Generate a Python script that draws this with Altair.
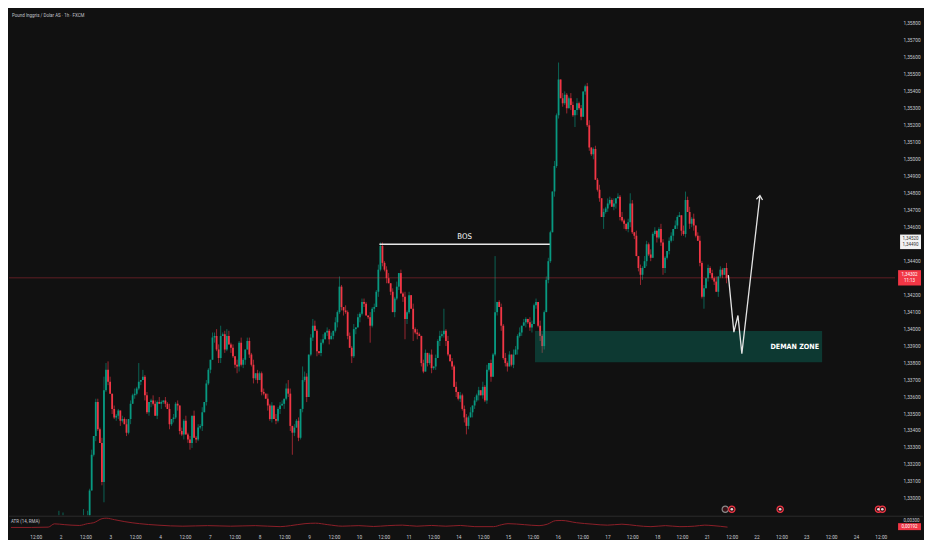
import altair as alt
import pandas as pd

# ---------------- data ----------------
TITLE = "Pound Inggris / Dolar AS · 1h · FXCM"
FIRST_OPEN = 1.3266

CLOSES = [
    # 0-35 (mostly below the visible range)
    1.3268, 1.3266, 1.3270, 1.3267, 1.3264, 1.3266, 1.3262, 1.3265, 1.3268, 1.3263,
    1.3260, 1.3264, 1.3267, 1.3262, 1.3258, 1.3261, 1.3265, 1.3262, 1.3266, 1.3270,
    1.3276, 1.3284, 1.3277, 1.3282, 1.3276, 1.3272, 1.3275, 1.3270, 1.3273, 1.3276,
    1.3274, 1.3278, 1.3283, 1.3287, 1.3284, 1.3289,
    # 36-93
    1.3305, 1.3326, 1.3337, 1.3357, 1.3341, 1.3333, 1.3310, 1.3364, 1.3376, 1.3369,
    1.3362, 1.3353, 1.3348, 1.3349, 1.3352, 1.3346, 1.3347, 1.3344, 1.3339, 1.3347,
    1.3356, 1.3361, 1.3362, 1.3365, 1.3369, 1.3370, 1.3372, 1.3361, 1.3351, 1.3357,
    1.3358, 1.3356, 1.3349, 1.3357, 1.3356, 1.3357, 1.3358, 1.3356, 1.3353, 1.3344,
    1.3347, 1.3348, 1.3356, 1.3355, 1.3340, 1.3338, 1.3346, 1.3338, 1.3335, 1.3333,
    1.3349, 1.3336, 1.3335, 1.3342, 1.3343, 1.3351, 1.3357, 1.3368,
    # 94-182
    1.3376, 1.3382, 1.3395, 1.3396, 1.3388, 1.3383, 1.3396, 1.3397, 1.3388, 1.3396,
    1.3391, 1.3389, 1.3384, 1.3379, 1.3378, 1.3392, 1.3379, 1.3382, 1.3388, 1.3393,
    1.3385, 1.3379, 1.3371, 1.3374, 1.3370, 1.3374, 1.3363, 1.3362, 1.3359, 1.3355,
    1.3347, 1.3355, 1.3347, 1.3346, 1.3353, 1.3355, 1.3356, 1.3359, 1.3365, 1.3362,
    1.3343, 1.3339, 1.3342, 1.3346, 1.3336, 1.3353, 1.3370, 1.3372, 1.3360, 1.3385,
    1.3395, 1.3402, 1.3399, 1.3387, 1.3386, 1.3392, 1.3394, 1.3398, 1.3399, 1.3394,
    1.3396, 1.3399, 1.3404, 1.3410, 1.3425, 1.3413, 1.3411, 1.3410, 1.3396, 1.3389,
    1.3384, 1.3400, 1.3401, 1.3407, 1.3409, 1.3416, 1.3415, 1.3408, 1.3407, 1.3402,
    1.3412, 1.3413, 1.3422, 1.3435, 1.3449, 1.3439, 1.3435, 1.3430, 1.3427,
    # 183-261
    1.3422, 1.3410, 1.3418, 1.3425, 1.3433, 1.3421, 1.3419, 1.3406, 1.3410, 1.3420,
    1.3412, 1.3400, 1.3398, 1.3397, 1.3396, 1.3380, 1.3375, 1.3386, 1.3380, 1.3385,
    1.3377, 1.3378, 1.3383, 1.3393, 1.3396, 1.3397, 1.3399, 1.3393, 1.3385, 1.3381,
    1.3378, 1.3366, 1.3363, 1.3359, 1.3361, 1.3353, 1.3348, 1.3343, 1.3348, 1.3351,
    1.3355, 1.3358, 1.3361, 1.3364, 1.3361, 1.3366, 1.3358, 1.3376, 1.3380, 1.3372,
    1.3385, 1.3410, 1.3416, 1.3413, 1.3402, 1.3383, 1.3380, 1.3378, 1.3385, 1.3379,
    1.3385, 1.3388, 1.3396, 1.3398, 1.3402, 1.3404, 1.3406, 1.3404, 1.3401, 1.3403,
    1.3414, 1.3416, 1.3402, 1.3396, 1.3390, 1.3410, 1.3429, 1.3440, 1.3457,
    # 262-347
    1.3481, 1.3496, 1.3526, 1.3547, 1.3536, 1.3533, 1.3538, 1.3530, 1.3536, 1.3532,
    1.3526, 1.3529, 1.3533, 1.3530, 1.3525, 1.3540, 1.3543, 1.3520, 1.3507, 1.3503,
    1.3506, 1.3488, 1.3482, 1.3477, 1.3466, 1.3469, 1.3471, 1.3474, 1.3476, 1.3472,
    1.3474, 1.3477, 1.3478, 1.3466, 1.3464, 1.3462, 1.3459, 1.3463, 1.3474, 1.3457,
    1.3455, 1.3443, 1.3436, 1.3432, 1.3436, 1.3440, 1.3450, 1.3444, 1.3442, 1.3456,
    1.3458, 1.3454, 1.3459, 1.3451, 1.3436, 1.3442, 1.3446, 1.3452, 1.3455, 1.3459,
    1.3461, 1.3466, 1.3467, 1.3458, 1.3456, 1.3476, 1.3469, 1.3462, 1.3465, 1.3461,
    1.3455, 1.3452, 1.3439, 1.3419, 1.3424, 1.3430, 1.3436, 1.3433, 1.3430, 1.3428,
    1.3422, 1.3431, 1.3435, 1.3432, 1.3436, 1.3430,
]

# wick lengths in pips (one digit per candle)
UPPER_WICK_PIPS = (
    "2131203121" "1302213102" "3121021320" "1203121302" "2130213021"
    "1021302131" "2031201321" "3102130212" "0213120312" "1302103213"
    "2120312031" "3102213021" "1203120312" "2031302120" "1320213102"
    "3021203121" "0312130212" "2103121302" "1230213021" "3120312102"
    "2013021320" "1302130212" "2130212031" "3021301213" "1203213021"
    "0321203112" "2103120321" "1320312012" "3012130213" "2130213102"
    "1203021321" "3120132102" "2031203123" "1302312021" "2130210312"
)
LOWER_WICK_PIPS = (
    "1320213012" "2103120321" "0213021312" "3120312013" "1023120312"
    "2310213021" "1203123102" "0312031213" "2130213021" "1302120312"
    "3021031203" "1230213120" "2103120213" "0312312021" "2130120312"
    "1023021312" "3120213031" "2013120312" "1302031203" "2310213021"
    "0213120312" "3102031213" "1203213021" "2130120312" "3012031203"
    "1230213120" "2103120213" "0312312021" "2130120312" "1023021312"
    "3120213031" "2013120312" "1302031203" "2310213021" "1203120312"
)
HIGH_OVERRIDE = {21: 1.3293, 23: 1.3292, 33: 1.3294, 35: 1.3293, 43: 1.3372, 44: 1.3380,
                 45: 1.3381, 60: 1.3380, 62: 1.3376, 98: 1.3400, 100: 1.3402, 103: 1.3400,
                 133: 1.3370, 140: 1.3378, 145: 1.3406, 158: 1.3431, 178: 1.3451,
                 209: 1.3412, 234: 1.3443, 265: 1.3557, 300: 1.3480, 327: 1.3481}
LOW_OVERRIDE = {43: 1.3298, 85: 1.3329, 99: 1.3380, 108: 1.3374, 135: 1.3326, 164: 1.3380,
                173: 1.3392, 190: 1.3394, 194: 1.3393, 220: 1.3338, 257: 1.3386,
                273: 1.3519, 287: 1.3459, 305: 1.3426, 316: 1.3432, 336: 1.3412}

ATR_I = [0, 10, 18, 21, 26, 33, 37, 40, 44, 46, 50, 55, 62, 71, 83, 95, 106, 118, 130, 135,
         142, 147, 153, 160, 168, 175, 182, 189, 196, 203, 210, 217, 224, 233, 237, 240, 248,
         255, 259, 263, 266, 273, 281, 288, 295, 302, 309, 316, 323, 330, 335, 339, 346]
ATR_V = [0.00179, 0.00179, 0.00184, 0.00239, 0.00225, 0.00212, 0.00242, 0.00258, 0.00325,
         0.00333, 0.00308, 0.00275, 0.00242, 0.00217, 0.00200, 0.00209, 0.00200, 0.00209,
         0.00192, 0.00209, 0.00242, 0.00250, 0.00225, 0.00200, 0.00209, 0.00195, 0.00209,
         0.00217, 0.00200, 0.00212, 0.00200, 0.00212, 0.00192, 0.00192, 0.00225, 0.00242,
         0.00225, 0.00209, 0.00233, 0.00292, 0.00295, 0.00258, 0.00233, 0.00217, 0.00233,
         0.00209, 0.00192, 0.00209, 0.00192, 0.00200, 0.00217, 0.00209, 0.00184]

TICK_LABELS = ["12:00", "2", "12:00", "3", "12:00", "4", "12:00", "7", "12:00", "8",
               "12:00", "9", "12:00", "10", "12:00", "11", "12:00", "14", "12:00", "15",
               "12:00", "16", "12:00", "17", "12:00", "18", "12:00", "21", "12:00", "22",
               "12:00", "23", "12:00", "24", "12:00"]
BARS_PER_TICK = 12

LAST_PRICE = 1.34302
LAST_LABEL = "1,34302\n11:13"
BOX_PRICE = 1.34514
BOX_LABEL = "1,34520\n1,34490"
ATR_LAST = 0.00192
ATR_LAST_LABEL = "0,00192"

BOS_I = [177.5, 260.7]
BOS_P = 1.3450
ZONE_I = [253.5, 393.7]
ZONE_P = [1.33805, 1.33989]
ARROW_I = [347.9, 350.6, 352.6, 354.5, 363.3]
ARROW_P = [1.34318, 1.33982, 1.34080, 1.33856, 1.34783]
EVENT_I = [346.4, 349.6, 373.2, 421.2, 423.1]
EVENT_KIND = ["other", "news", "news", "news", "news"]

# ---------------- layout ----------------
W = 889
HP = 508
HA = 15
XDOM = [-0.94, 426.9]
PDOM = [1.32904, 1.35886]
ADOM = [0.00117, 0.00366]
GREEN = "#089981"
RED = "#f23645"
BG = "#111111"
LBL = "#c8cbd2"
FONT = "Roboto"
NARROW = "Liberation Sans Narrow, DejaVu Sans Condensed, Roboto"
AX_FS = 4.8

n = len(CLOSES)
opens = [FIRST_OPEN] + CLOSES[:-1]
uw = [int(ch) for ch in UPPER_WICK_PIPS[:n]]
lw = [int(ch) for ch in LOWER_WICK_PIPS[:n]]
highs = [HIGH_OVERRIDE.get(i, max(opens[i], CLOSES[i]) + uw[i] * 0.0001) for i in range(n)]
lows = [LOW_OVERRIDE.get(i, min(opens[i], CLOSES[i]) - lw[i] * 0.0001) for i in range(n)]
candles = pd.DataFrame({
    "i": list(range(n)), "o": opens, "c": CLOSES, "h": highs, "l": lows,
    "dir": ["up" if CLOSES[i] >= opens[i] else "down" for i in range(n)],
})

xs = alt.Scale(domain=XDOM, nice=False, zero=False)
ys = alt.Scale(domain=PDOM, nice=False, zero=False)
as_ = alt.Scale(domain=ADOM, nice=False, zero=False)
cs = alt.Scale(domain=["up", "down"], range=[GREEN, RED])

price_ticks = [round(1.330 + 0.001 * k, 3) for k in range(29)]
price_ticks = [t for t in price_ticks if t not in (1.343, 1.345)]

yaxis = alt.Axis(orient="right", values=price_ticks,
                 labelExpr="replace(format(datum.value, '.5f'), '.', ',')",
                 domain=False, ticks=False, grid=False, labelFontSize=AX_FS, labelColor=LBL,
                 labelPadding=8, labelOverlap=False, title=None, labelFont=FONT)


def PY(field):
    return alt.Y(field, scale=ys, axis=yaxis)


X = alt.X("i:Q", scale=xs, axis=None)

wicks = alt.Chart(candles).mark_rule(strokeWidth=1, opacity=0.6, clip=True).encode(
    x=X, y=PY("l:Q"), y2="h:Q",
    color=alt.Color("dir:N", scale=cs, legend=None))
bodies = alt.Chart(candles).mark_bar(width=1.8, clip=True).encode(
    x=X, y=PY("o:Q"), y2="c:Q",
    color=alt.Color("dir:N", scale=cs, legend=None))

last_df = pd.DataFrame({"p": [LAST_PRICE], "t": [LAST_LABEL]})
last_rule = alt.Chart(last_df).mark_rule(color=RED, opacity=0.35, strokeWidth=1).encode(
    y=PY("p:Q"))

zone_df = pd.DataFrame({"i": [ZONE_I[0]], "i2": [ZONE_I[1]], "p1": [ZONE_P[0]], "p2": [ZONE_P[1]],
                        "pm": [(ZONE_P[0] + ZONE_P[1]) / 2], "t": ["DEMAN ZONE"]})
zone = alt.Chart(zone_df).mark_rect(color=GREEN, opacity=0.3).encode(
    x=X, x2="i2:Q", y=PY("p1:Q"), y2="p2:Q")
zone_text = alt.Chart(zone_df).mark_text(
    align="right", baseline="middle", dx=-3, color="#ffffff", fontSize=7.2, fontWeight="bold",
    font=NARROW).encode(
    x=alt.X("i2:Q", scale=xs, axis=None), y=PY("pm:Q"), text="t:N")

bos_df = pd.DataFrame({"i": [BOS_I[0]], "i2": [BOS_I[1]], "p": [BOS_P],
                       "mid": [(BOS_I[0] + BOS_I[1]) / 2], "t": ["BOS"]})
bos = alt.Chart(bos_df).mark_rule(color="#e8e8e8", strokeWidth=1.4).encode(
    x=X, x2="i2:Q", y=PY("p:Q"))
bos_text = alt.Chart(bos_df).mark_text(
    baseline="bottom", dy=-3, color="#ffffff", fontSize=7.8, font=NARROW).encode(
    x=alt.X("mid:Q", scale=xs, axis=None), y=PY("p:Q"), text="t:N")

arrow_df = pd.DataFrame({"i": ARROW_I, "p": ARROW_P, "k": list(range(len(ARROW_I)))})
arrow = alt.Chart(arrow_df).mark_line(color="#e4e4e4", strokeWidth=1.3).encode(
    x=X, y=PY("p:Q"), order="k:O")
head = alt.Chart(arrow_df.tail(1)).mark_point(
    shape="M-0.8,0.9L0,-0.15L0.8,0.9", angle=6.6, filled=False, size=60,
    color="#e4e4e4", strokeWidth=1.3, opacity=1).encode(
    x=X, y=PY("p:Q"))

ev_df = pd.DataFrame({"i": EVENT_I, "kind": EVENT_KIND})
ev_scale = alt.Scale(domain=["other", "news"], range=["#8a8a8a", RED])
events = alt.Chart(ev_df).mark_point(filled=True, size=40, strokeWidth=1.2, fill="#3a1418",
                                     opacity=1).encode(
    x=X, y=alt.value(HP - 6), stroke=alt.Stroke("kind:N", scale=ev_scale, legend=None))
ev_core = alt.Chart(ev_df[ev_df["kind"] == "news"]).mark_point(
    filled=True, size=7, color="#e9dcdd", opacity=1).encode(x=X, y=alt.value(HP - 6))

title_df = pd.DataFrame({"t": [TITLE]})
title = alt.Chart(title_df).mark_text(align="left", baseline="middle", color="#c0c3ca",
                                      fontSize=4.5, font=FONT).encode(
    x=alt.value(3), y=alt.value(7), text="t:N")

box_df = pd.DataFrame({"p": [BOX_PRICE], "t": [BOX_LABEL]})
white_box = alt.Chart(box_df).mark_rect(color="#f2f2f2", yOffset=-7.3, y2Offset=7.3).encode(
    x=alt.value(W + 5), x2=alt.value(W + 26), y=PY("p:Q"), y2="p:Q")
white_txt = alt.Chart(box_df).mark_text(color="#333333", fontSize=4.5, lineBreak="\n",
                                        lineHeight=6, font=FONT, baseline="middle", dy=-2.6).encode(
    x=alt.value(W + 15.5), y=PY("p:Q"), text="t:N")
red_box = alt.Chart(last_df).mark_rect(color=RED, yOffset=-7.7, y2Offset=7.7).encode(
    x=alt.value(W + 3), x2=alt.value(W + 26), y=PY("p:Q"), y2="p:Q")
red_txt = alt.Chart(last_df).mark_text(color="#ffffff", fontSize=4.5, lineBreak="\n",
                                       lineHeight=6, font=FONT, baseline="middle", dy=-2.6).encode(
    x=alt.value(W + 14.5), y=PY("p:Q"), text="t:N")

price = alt.layer(wicks, bodies, last_rule, zone, zone_text, bos, bos_text, arrow, head,
                  events, ev_core, title, white_box, white_txt, red_box, red_txt).properties(
    width=W, height=HP)

# ---------------- ATR panel ----------------
tick_vals = [BARS_PER_TICK * (k + 1) for k in range(len(TICK_LABELS))]
expr = "''"
for v, lab in reversed(list(zip(tick_vals, TICK_LABELS))):
    expr = f"datum.value == {v} ? '{lab}' : ({expr})"

xaxis = alt.Axis(values=tick_vals, labelExpr=expr, domain=False, ticks=False, grid=False,
                 labelFontSize=AX_FS, labelColor=LBL, labelPadding=3, labelOverlap=False,
                 labelFlush=False, title=None, labelFont=FONT)
aaxis = alt.Axis(orient="right", values=[0.003], labelExpr="'0,00300'", domain=False,
                 ticks=False, grid=False, labelFontSize=4.5, labelColor=LBL, labelPadding=8,
                 title=None, labelFont=FONT)


def AY(field):
    return alt.Y(field, scale=as_, axis=aaxis)


AX = alt.X("i:Q", scale=xs, axis=xaxis)

atr_df = pd.DataFrame({"i": ATR_I, "v": ATR_V})
atr_line = alt.Chart(atr_df).mark_line(color="#8c1f28", strokeWidth=1,
                                       interpolate="monotone").encode(x=AX, y=AY("v:Q"))
sep = alt.Chart(pd.DataFrame({"a": [0]})).mark_rule(color="#2b2b2b", strokeWidth=1).encode(
    x=alt.value(0), x2=alt.value(W + 28), y=alt.value(0))
atr_lbl = alt.Chart(pd.DataFrame({"t": ["ATR (14, RMA)"]})).mark_text(
    align="left", baseline="middle", color="#c0c3ca", fontSize=4.5, font=FONT).encode(
    x=alt.value(2), y=alt.value(6), text="t:N")
atr_last = pd.DataFrame({"v": [ATR_LAST], "t": [ATR_LAST_LABEL]})
atr_box = alt.Chart(atr_last).mark_rect(color=RED, yOffset=-3.5, y2Offset=3.5).encode(
    x=alt.value(W + 3), x2=alt.value(W + 26), y=AY("v:Q"), y2="v:Q")
atr_txt = alt.Chart(atr_last).mark_text(color="#ffffff", fontSize=4.5, font=FONT,
                                        baseline="middle").encode(
    x=alt.value(W + 14.5), y=AY("v:Q"), text="t:N")

atr = alt.layer(atr_line, sep, atr_lbl, atr_box, atr_txt).properties(width=W, height=HA)

chart = alt.vconcat(price, atr, spacing=0).properties(
    background=BG, padding=0).configure_view(stroke=None)

chart.save("out.html", embed_options={"renderer": "svg", "actions": False})
